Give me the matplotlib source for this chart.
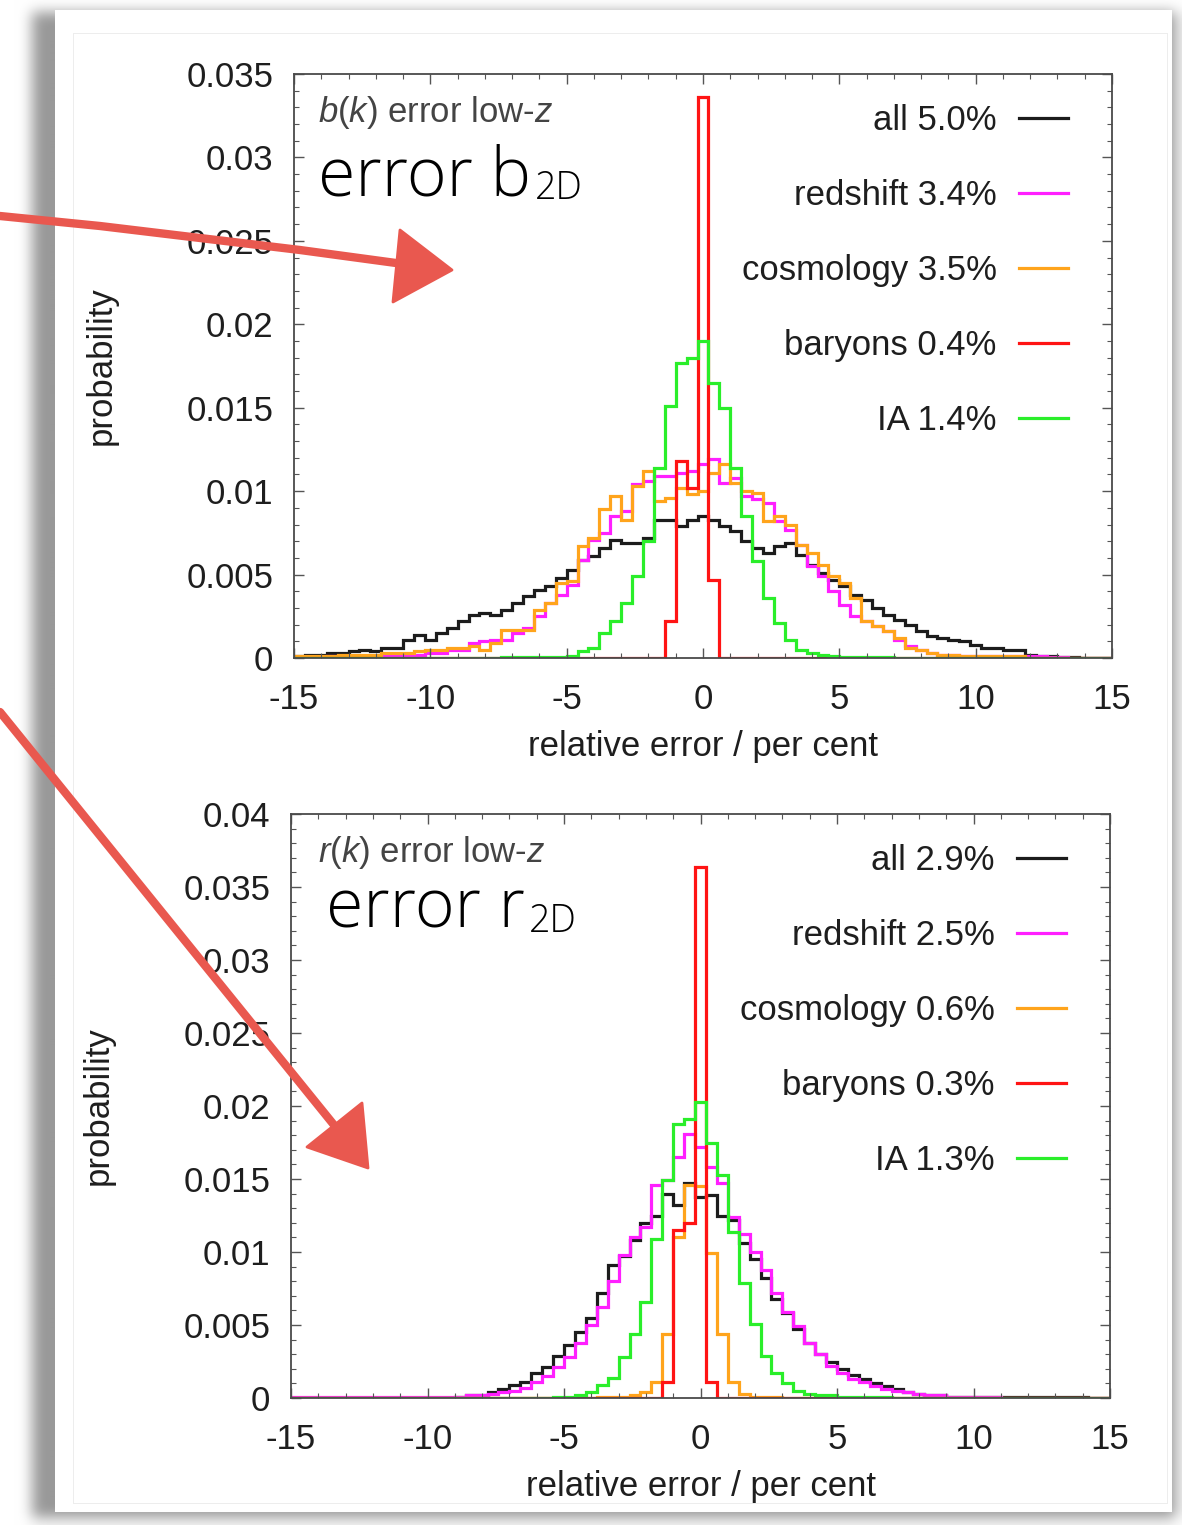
import numpy as np
import matplotlib

matplotlib.use("Agg")
import matplotlib.pyplot as plt
from matplotlib.patches import Polygon
from matplotlib.ticker import MultipleLocator, FormatStrFormatter

W, H = 1182, 1525

plt.rcParams["font.family"] = ["Liberation Sans", "DejaVu Sans"]
plt.rcParams["axes.unicode_minus"] = False
plt.rcParams["mathtext.fontset"] = "custom"
plt.rcParams["mathtext.rm"] = "Liberation Sans"
plt.rcParams["mathtext.it"] = "Liberation Sans:italic"

# 75 bins of width 0.4 per cent, centred on zero
EDGES = np.linspace(-15, 15, 76)

SOURCES = ["all", "redshift", "cosmology", "baryons", "IA"]
COLORS = {
    "all": "#1c1c1c",
    "redshift": "#ff1fff",
    "cosmology": "#ffa41c",
    "baryons": "#ff1414",
    "IA": "#2aee2a",
}
ARROW = "#e9584f"

# b(k) error, low-z
B_ALL = [
    0.0001, 0.0002, 0.0002, 0.0003, 0.0003, 0.0004, 0.0005, 0.0004, 0.0006, 0.0006,
    0.0011, 0.0014, 0.0011, 0.0015, 0.0018, 0.0022, 0.0026, 0.0027, 0.0026, 0.0029,
    0.0033, 0.0037, 0.0041, 0.0043, 0.0048, 0.0053, 0.0059, 0.0061, 0.0066, 0.0071,
    0.0069, 0.0069, 0.0072, 0.0083, 0.0083, 0.0079, 0.0083, 0.0085, 0.0083, 0.0079,
    0.0076, 0.0070, 0.0066, 0.0063, 0.0067, 0.0069, 0.0062, 0.0056, 0.0051, 0.0047,
    0.0043, 0.0038, 0.0035, 0.0030, 0.0026, 0.0023, 0.0020, 0.0016, 0.0013, 0.0012,
    0.0011, 0.0010, 0.0008, 0.0006, 0.0006, 0.0005, 0.0005, 0.0002, 0.0001, 0.0001,
    0.00005, 0.00003, 0.0, 0.0, 0.0,
]
B_REDSHIFT = [
    0.00005, 0.00005, 0.00005, 0.0001, 0.0001, 0.0001, 0.0001, 0.0001, 0.0002, 0.0002,
    0.0002, 0.0002, 0.0003, 0.0003, 0.0005, 0.0005, 0.0009, 0.0010, 0.0011, 0.0011,
    0.0015, 0.0018, 0.0025, 0.0033, 0.0038, 0.0044, 0.0059, 0.0071, 0.0075, 0.0085,
    0.0088, 0.0104, 0.0106, 0.0109, 0.0109, 0.0111, 0.0112, 0.0116, 0.0119, 0.0105,
    0.0108, 0.0097, 0.0095, 0.0093, 0.0082, 0.0077, 0.0068, 0.0055, 0.0049, 0.0040,
    0.0032, 0.0025, 0.0022, 0.0019, 0.0016, 0.0011, 0.0007, 0.0005, 0.0003, 0.0002,
    0.0002, 0.0001, 0.0001, 0.0001, 0.0001, 0.0001, 0.0001, 0.0001, 0.0001, 0.00005,
    0.00005, 0.0, 0.0, 0.0, 0.0,
]
B_COSMOLOGY = [
    0.0001, 0.0001, 0.0001, 0.0001, 0.0002, 0.0002, 0.0002, 0.0002, 0.0003, 0.0003,
    0.0003, 0.0004, 0.0005, 0.0005, 0.0006, 0.0006, 0.0007, 0.0005, 0.0009, 0.0017,
    0.0017, 0.0017, 0.0029, 0.0033, 0.0045, 0.0046, 0.0067, 0.0072, 0.0089, 0.0097,
    0.0083, 0.0103, 0.0112, 0.0094, 0.0096, 0.0102, 0.0098, 0.0100, 0.0111, 0.0116,
    0.0105, 0.0100, 0.0099, 0.0082, 0.0085, 0.0080, 0.0068, 0.0063, 0.0056, 0.0049,
    0.0045, 0.0036, 0.0022, 0.0019, 0.0016, 0.0012, 0.0006, 0.0005, 0.0003, 0.0002,
    0.0002, 0.0001, 0.0001, 0.0001, 0.0001, 0.0001, 0.0001, 0.0, 0.0, 0.0,
    0.0, 0.0, 0.0, 0.0, 0.0,
]
B_BARYONS = [0.0] * 34 + [0.0022, 0.0118, 0.0102, 0.0336, 0.0047] + [0.0] * 36
B_IA = (
    [0.0] * 19
    + [0.00003] * 6
    + [0.0001, 0.0004, 0.0006, 0.0015, 0.0022, 0.0033, 0.0049, 0.0070, 0.0114, 0.0151,
       0.0177, 0.0180, 0.0190, 0.0165, 0.0150, 0.0114, 0.0085, 0.0058, 0.0036, 0.0021,
       0.0011, 0.0005, 0.0003, 0.0002, 0.0001]
    + [0.00005] * 5
    + [0.0] * 20
)

# r(k) error, low-z
R_ALL = (
    [0.00003] * 15
    + [0.0001, 0.0002, 0.0002, 0.0004, 0.0006, 0.0009, 0.0011, 0.0017, 0.0021, 0.0029,
       0.0036, 0.0045, 0.0055, 0.0072, 0.0091, 0.0097, 0.0108, 0.0120, 0.0125, 0.0140,
       0.0132, 0.0147, 0.0138, 0.0139, 0.0125, 0.0122, 0.0106, 0.0095, 0.0082, 0.0068,
       0.0058, 0.0047, 0.0038, 0.0030, 0.0025, 0.0020, 0.0016, 0.0013, 0.0010, 0.0008,
       0.0006, 0.0004, 0.0003, 0.0002, 0.0002]
    + [0.0001] * 13
    + [0.0] * 2
)
R_REDSHIFT = (
    [0.0001] * 15
    + [0.0001, 0.0002, 0.0002, 0.0003, 0.0004, 0.0005, 0.0007, 0.0011, 0.0015, 0.0021,
       0.0028, 0.0038, 0.0050, 0.0062, 0.0080, 0.0098, 0.0110, 0.0117, 0.0146, 0.0149,
       0.0165, 0.0181, 0.0172, 0.0158, 0.0147, 0.0124, 0.0112, 0.0100, 0.0088, 0.0072,
       0.0059, 0.0049, 0.0038, 0.0030, 0.0022, 0.0017, 0.0013, 0.0011, 0.0008, 0.0006,
       0.0005, 0.0004, 0.0003, 0.0002, 0.0002]
    + [0.0001] * 5
    + [0.0] * 10
)
R_COSMOLOGY = (
    [0.0] * 28
    + [0.00005, 0.0001, 0.0001, 0.0002, 0.0004, 0.0011, 0.0044, 0.0110, 0.0146, 0.0145,
       0.0099, 0.0044, 0.0011, 0.0003, 0.0001, 0.0001, 0.00005]
    + [0.0] * 30
)
R_BARYONS = [0.0] * 34 + [0.0011, 0.0115, 0.0120, 0.0364, 0.0011] + [0.0] * 36
R_IA = (
    [0.0] * 24
    + [0.00005, 0.0001, 0.0002, 0.0004, 0.0009, 0.0014, 0.0028, 0.0044, 0.0066, 0.0109,
       0.0149, 0.0188, 0.0191, 0.0203, 0.0175, 0.0153, 0.0114, 0.0079, 0.0051, 0.0029,
       0.0017, 0.0010, 0.0005, 0.0003, 0.0002, 0.0002]
    + [0.0001] * 5
    + [0.0] * 20
)

B_PERCENT = [5.0, 3.4, 3.5, 0.4, 1.4]
R_PERCENT = [2.9, 2.5, 0.6, 0.3, 1.3]

B_YTICKS = [0, 0.005, 0.01, 0.015, 0.02, 0.025, 0.03, 0.035]
R_YTICKS = [0, 0.005, 0.01, 0.015, 0.02, 0.025, 0.03, 0.035, 0.04]
XTICKS = [-15, -10, -5, 0, 5, 10, 15]

BIG = dict(family=["Open Sans", "Roboto", "DejaVu Sans"], fontweight="light", color="black")


def box_blur(a, r, axis):
    pad = [(0, 0), (0, 0)]
    pad[axis] = (r + 1, r)
    c = np.cumsum(np.pad(a, pad, mode="edge"), axis=axis)
    n = a.shape[axis]
    hi = np.take(c, np.arange(2 * r + 1, 2 * r + 1 + n), axis=axis)
    lo = np.take(c, np.arange(0, n), axis=axis)
    return (hi - lo) / (2 * r + 1)


def paper_background():
    mask = np.zeros((H, W))
    mask[12:1518, 32:1176] = 1.0
    for _ in range(3):
        mask = box_blur(mask, 6, 0)
        mask = box_blur(mask, 6, 1)
    shade = 1.0 - 0.4 * mask
    shade[10:1512, 55:1172] = 1.0
    shade[33, 73:1168] = 0.93
    shade[1503, 73:1168] = 0.93
    shade[33:1504, 73] = 0.93
    shade[33:1504, 1167] = 0.93
    return np.dstack([shade] * 3)


def panel(fig, box, series, percents, yticks):
    left, top, right, bottom = box
    ax = fig.add_axes([left / W, 1 - bottom / H, (right - left) / W, (bottom - top) / H])
    ax.set_zorder(2)
    for name, values, pct in zip(SOURCES, series, percents):
        ax.stairs(values, EDGES, color=COLORS[name], lw=2.3, label=f"{name} {pct:.1f}%")

    ax.set_xlim(-15, 15)
    ax.set_ylim(0, yticks[-1])
    ax.set_xticks(XTICKS)
    ax.set_yticks(yticks)
    ax.xaxis.set_minor_locator(MultipleLocator(1))
    ax.yaxis.set_minor_locator(MultipleLocator(0.001))
    ax.xaxis.set_major_formatter(FormatStrFormatter("%g"))
    ax.yaxis.set_major_formatter(FormatStrFormatter("%g"))
    ax.tick_params(which="both", direction="in", top=True, right=True, colors="#555555",
                   labelcolor="#1e1e1e", labelsize=25)
    ax.tick_params(which="major", length=7, width=1.0, pad=15)
    ax.tick_params(axis="x", which="major", pad=18)
    ax.tick_params(which="minor", length=3.5, width=0.8)
    for spine in ax.spines.values():
        spine.set_color("#4a4a4a")
        spine.set_linewidth(1.3)

    ax.set_xlabel("relative error / per cent", fontsize=25, color="#1e1e1e")
    ax.set_ylabel("probability", fontsize=25, color="#1e1e1e")
    ax.xaxis.set_label_coords(0.5, -0.123)
    ax.yaxis.set_label_coords(-0.215, 0.5)

    ax.legend(
        loc="upper right",
        bbox_to_anchor=(0.946, 0.948),
        markerfirst=False,
        frameon=False,
        fontsize=25,
        labelcolor="#1e1e1e",
        handlelength=1.4,
        handletextpad=0.65,
        labelspacing=1.21,
        borderpad=0,
        borderaxespad=0,
    )
    return ax


def big_label(fig, over, x, y, word, sub):
    t = over.text(x, y, word, fontsize=49, **BIG)
    fig.canvas.draw()
    # window extent is in display pixels, so its right edge maps straight onto x
    x_end = t.get_window_extent().x1
    over.text(x_end + 4, y + 4, sub, fontsize=27, **BIG)


def main():
    fig = plt.figure(figsize=(W / 100, H / 100), dpi=100)

    bg = fig.add_axes([0, 0, 1, 1])
    bg.set_zorder(0)
    bg.imshow(paper_background(), extent=(0, W, H, 0), interpolation="bilinear")
    bg.set_xlim(0, W)
    bg.set_ylim(H, 0)
    bg.axis("off")

    panel(fig, (294, 74, 1112, 658), [B_ALL, B_REDSHIFT, B_COSMOLOGY, B_BARYONS, B_IA],
          B_PERCENT, B_YTICKS)
    panel(fig, (291, 814, 1110, 1398), [R_ALL, R_REDSHIFT, R_COSMOLOGY, R_BARYONS, R_IA],
          R_PERCENT, R_YTICKS)

    # annotation layer in pixel coordinates
    over = fig.add_axes([0, 0, 1, 1])
    over.set_zorder(5)
    over.patch.set_alpha(0)
    over.set_xlim(0, W)
    over.set_ylim(H, 0)
    over.axis("off")

    over.text(318, 122, r"$b(k)$ error low-$z$", fontsize=25, color="#444444")
    over.text(318, 862, r"$r(k)$ error low-$z$", fontsize=25, color="#444444")

    big_label(fig, over, 318, 195, "error b", "2D")
    big_label(fig, over, 326, 928, "error r", "2D")

    over.plot([0, 100, 200, 300, 396], [216, 226, 238, 250, 263], color=ARROW, lw=6,
              solid_capstyle="round")
    over.add_patch(Polygon([(400, 230), (452, 270), (393, 302)], closed=True,
                           facecolor=ARROW, edgecolor=ARROW, lw=2, joinstyle="round"))
    over.plot([0, 334], [712, 1125], color=ARROW, lw=6, solid_capstyle="round")
    over.add_patch(Polygon([(362, 1103), (307, 1147), (368, 1168)], closed=True,
                           facecolor=ARROW, edgecolor=ARROW, lw=2, joinstyle="round"))

    fig.savefig("out.png", dpi=100)
    plt.close(fig)


if __name__ == "__main__":
    main()
